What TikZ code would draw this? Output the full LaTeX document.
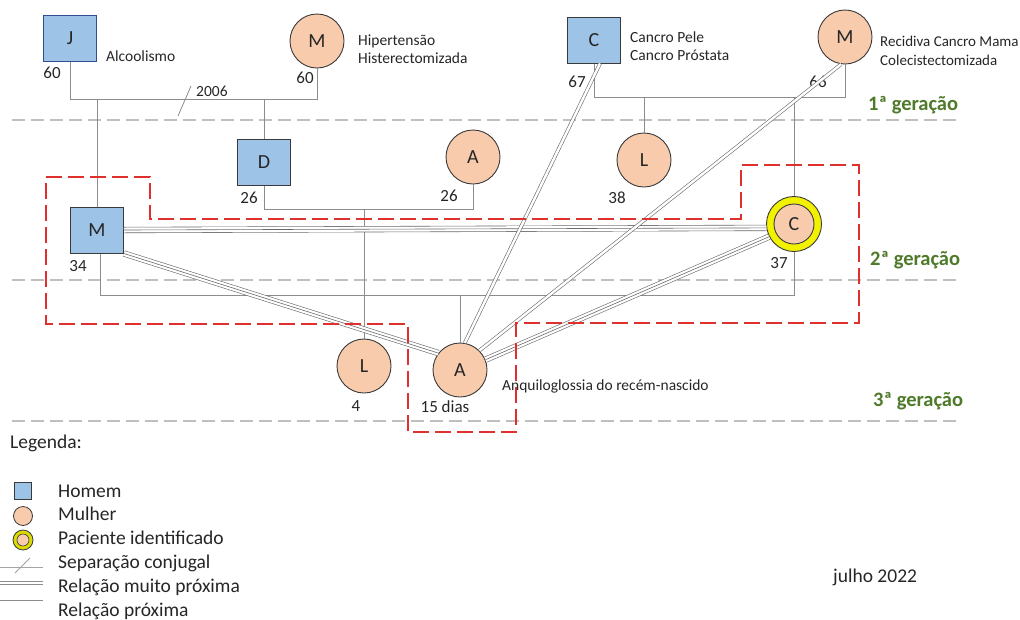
\documentclass[tikz,border=0pt]{standalone}
\usepackage{fontspec}
\setmainfont{Carlito}
\usetikzlibrary{calc}
\definecolor{manfill}{HTML}{9DC3E6}
\definecolor{womanfill}{HTML}{F8CBAD}
\definecolor{gengreen}{HTML}{4E7A2A}
\definecolor{boxred}{HTML}{E0302E}
\definecolor{genline}{HTML}{BFBFBF}
\definecolor{famline}{HTML}{8C8C8C}
\definecolor{relline}{HTML}{6A6A6A}
\definecolor{edge}{HTML}{3A3A3A}
\definecolor{jedge}{HTML}{2F4F8F}
\definecolor{txt}{HTML}{262626}
\definecolor{patyellow}{HTML}{F2F200}
\begin{document}
\begin{tikzpicture}[x=1pt,y=-1pt,
  man/.style={rectangle, fill=manfill, draw=edge, line width=1pt, minimum width=53pt, minimum height=46pt, inner sep=0pt, font=\fontsize{20}{22}\selectfont, text=txt},
  woman/.style={circle, fill=womanfill, draw=edge, line width=0.9pt, minimum size=54pt, inner sep=0pt, font=\fontsize{20}{22}\selectfont, text=txt},
  age/.style={font=\fontsize{17}{19}\selectfont, text=txt, inner sep=0pt},
  note/.style={font=\fontsize{15.5}{18}\selectfont, text=txt, inner sep=0pt, anchor=west, align=left},
  gen/.style={font=\fontsize{20.5}{22}\selectfont\bfseries, text=gengreen, inner sep=0pt, anchor=west},
  legtxt/.style={font=\fontsize{19.5}{22}\selectfont, text=txt, inner sep=0pt, anchor=west},
  fam/.style={draw=famline, line width=0.8pt},
  rel2/.style={draw=relline, line width=0.6pt, double=white, double distance=2.4pt},
  rel3/.style={draw=relline, line width=0.6pt, double=white, double distance=5pt},
  relmid/.style={draw=relline, line width=0.6pt},
  genrule/.style={draw=genline, line width=2pt, dash pattern=on 13pt off 6pt},
  redbox/.style={draw=boxred, line width=1.8pt, dash pattern=on 16pt off 6pt}
]
\useasboundingbox (0,0) rectangle (1020,619);

% ---------- generation rules ----------
\draw[genrule] (12,120) -- (962,120);
\draw[genrule] (12,280) -- (962,280);
\draw[genrule] (12,421) -- (962,421);

% ---------- persons ----------
\node[man, draw=jedge] (J) at (70,38) {J};
\node[woman] (MH) at (317,41) {M};
\node[man] (C67) at (594,40) {C};
\node[woman] (M66) at (845,37) {M};
\node[man] (D) at (264,162) {D};
\node[woman] (A26) at (473,157) {A};
\node[woman] (L38) at (644,160) {L};
\node[man] (M34) at (97,230) {M};
\node[circle, fill=patyellow, draw=edge, line width=0.9pt, minimum size=55pt, inner sep=0pt] (C37) at (794,224) {};
\node[woman, minimum size=40pt] (C37i) at (C37) {C};
\node[woman] (L4) at (364,366) {L};
\node[woman] (A15) at (460,370) {A};

% ---------- ages ----------
\node[age] (aJ) at (52,73) {60};
\node[age] (aMH) at (305,78) {60};
\node[age] (aC67) at (577,82) {67};
\node[age] (aM66) at (818,82) {66};
\node[age] (aD) at (249,198) {26};
\node[age] (aA26) at (449,196) {26};
\node[age] (aL38) at (617,198) {38};
\node[age] (aM34) at (78,266) {34};
\node[age] (aC37) at (779,263) {37};
\node[age] (aL4) at (356,406) {4};
\node[age] (aA15) at (445,407) {15 dias};

% ---------- notes ----------
\node[note] (nJ) at (106,56) {Alcoolismo};
\node[note] (nMH) at (358,49) {Hipertensão\\Histerectomizada};
\node[note] (nC67) at (630,46) {Cancro Pele\\Cancro Próstata};
\node[note, font=\fontsize{15}{18.5}\selectfont] (nM66) at (880,51) {Recidiva Cancro Mama\\Colecistectomizada};
\node[note, font=\fontsize{15.5}{17}\selectfont] (n2006) at (196,91) {2006};
\node[note] (nA15) at (502,386) {Anquiloglossia do recém-nascido};

% ---------- generation labels ----------
\node[gen] (g1) at (868,105) {1ª geração};
\node[gen] (g2) at (870,260) {2ª geração};
\node[gen] (g3) at (873,401) {3ª geração};

% ---------- family lines ----------
\coordinate (u1) at (0,99);
\coordinate (u2) at (0,97);
\coordinate (u3) at (0,209);
\coordinate (u4) at (0,295);
\draw[fam] (J) -- (J |- u1) -| (MH);
\draw[fam] (M34 |- u1) -- (M34);
\draw[fam] (D |- u1) -- (D);
\coordinate (sepa) at (178,116);
\coordinate (sepb) at (191,86);
\draw[fam] (sepa) -- (sepb);
\draw[fam] (C67) -- (C67 |- u2) -| (M66);
\draw[fam] (L38 |- u2) -- (L38);
\draw[fam] (C37 |- u2) -- (C37);
\draw[fam] (D) -- (D |- u3) -| (A26);
\draw[fam] (L4 |- u3) -- (L4);
\draw[fam] ([xshift=3pt]M34.south) -- ([xshift=3pt]M34.south |- u4) -| (C37);
\draw[fam] (A15 |- u4) -- (A15);

% ---------- relationship lines ----------
\draw[rel3] (M34.east) -- (C37.188);
\draw[relmid] (M34.east) -- (C37.188);
\draw[rel3] (M34.south east) -- (A15.142);
\draw[relmid] (M34.south east) -- (A15.142);
\draw[rel3] (C37.207) -- (A15.22);
\draw[relmid] (C37.207) -- (A15.22);
\draw[rel2] ([xshift=6pt]C67.south) -- (A15.80);
\draw[rel2] (M66.262) -- (A15.45);

% ---------- red dashed box ----------
\draw[redbox] (46,177) -- (150,177) -- (150,219) -- (741,219) -- (741,165) -- (859,165)
  -- (859,323) -- (516,323) -- (516,432) -- (408,432) -- (408,324) -- (46,324) -- cycle;

% ---------- legend ----------
\node[legtxt] (leg) at (10,443) {Legenda:};
\node[rectangle, fill=manfill, draw=edge, line width=1pt, minimum size=17pt, inner sep=0pt] (lgman) at (23,491) {};
\node[circle, fill=womanfill, draw=edge, line width=0.8pt, minimum size=19pt, inner sep=0pt] (lgwoman) at (23,516) {};
\node[circle, fill=patyellow!80!olive, draw=edge, line width=0.8pt, minimum size=20pt, inner sep=0pt] (lgpat) at (23,540) {};
\node[circle, fill=womanfill, draw=edge, line width=0.6pt, minimum size=12pt, inner sep=0pt] (lgpati) at (lgpat) {};
\coordinate (ls1) at (0,567); \coordinate (ls2) at (43,567);
\coordinate (ls3) at (15,573); \coordinate (ls4) at (30,558);
\draw[draw=famline!80, line width=0.8pt] (ls1) -- (ls2);
\draw[draw=famline!80, line width=0.8pt] (ls3) -- (ls4);
\coordinate (lt1) at (0,584); \coordinate (lt2) at (43,584);
\draw[rel3, draw=famline] (lt1) -- (lt2);
\draw[relmid, draw=famline] (lt1) -- (lt2);
\coordinate (ld1) at (0,602); \coordinate (ld2) at (43,602);
\draw[rel2, draw=famline, double distance=3pt] (ld1) -- (ld2);
\node[legtxt] (l1) at (58,491) {Homem};
\node[legtxt] (l2) at (58,514) {Mulher};
\node[legtxt] (l3) at (58,538) {Paciente identificado};
\node[legtxt] (l4) at (58,563) {Separação conjugal};
\node[legtxt] (l5) at (58,587) {Relação muito próxima};
\node[legtxt] (l6) at (58,611) {Relação próxima};
\node[legtxt, font=\fontsize{19.5}{21}\selectfont] (date) at (833,577) {julho 2022};
\end{tikzpicture}
\end{document}
